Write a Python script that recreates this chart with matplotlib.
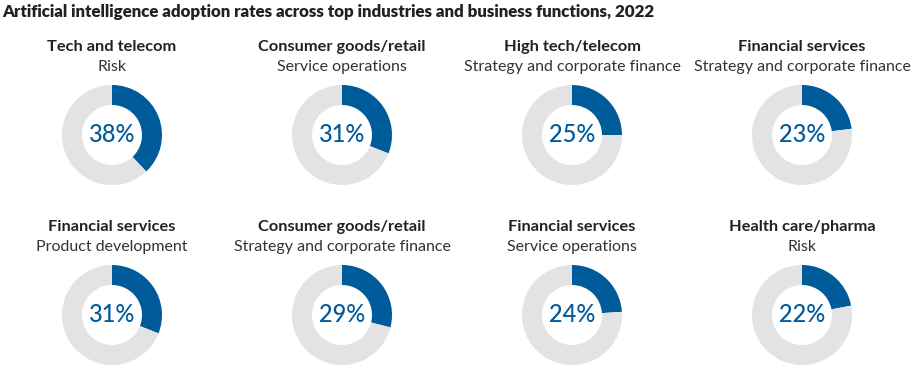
import matplotlib.pyplot as plt

industries = ["Tech and telecom", "Consumer goods/retail", "High tech/telecom", "Financial services",
              "Financial services", "Consumer goods/retail", "Financial services", "Health care/pharma"]
functions = ["Risk", "Service operations", "Strategy and corporate finance", "Strategy and corporate finance",
             "Product development", "Strategy and corporate finance", "Service operations", "Risk"]
rates = [38, 31, 25, 23, 31, 29, 24, 22]

blue = "#005B9A"
grey = "#E3E3E3"
W, H = 916, 366

plt.rcParams['font.family'] = ['Lato', 'DejaVu Sans']
fig = plt.figure(figsize=(W / 100, H / 100), dpi=100)

fig.text(2 / W, 1 - 12 / H, "Artificial intelligence adoption rates across top industries and business functions, 2022",
         fontsize=12.2, fontweight='heavy', color="#222222", va='center', ha='left')

col_x = [112, 342, 572, 802]
row_y = [135, 315]
r = 50
for i, (ind, fn, val) in enumerate(zip(industries, functions, rates)):
    cx = col_x[i % 4]
    cy = row_y[i // 4]
    ax = fig.add_axes([(cx - r) / W, 1 - (cy + r) / H, 2 * r / W, 2 * r / H])
    ax.pie([val, 100 - val], colors=[blue, grey], startangle=90, counterclock=False,
           wedgeprops=dict(width=0.4, linewidth=0))
    ax.set_xlim(-1, 1)
    ax.set_ylim(-1, 1)
    ax.set_aspect('equal')
    ax.text(0, 0, f"{val}%", ha='center', va='center', fontsize=17, color=blue, fontweight='medium')
    fig.text(cx / W, 1 - (cy - 88) / H, ind, ha='center', va='center', fontsize=11.8,
             fontweight='bold', color="#222222")
    fig.text(cx / W, 1 - (cy - 68) / H, fn, ha='center', va='center', fontsize=11.5, color="#333333")

fig.savefig("out.png", dpi=100)
